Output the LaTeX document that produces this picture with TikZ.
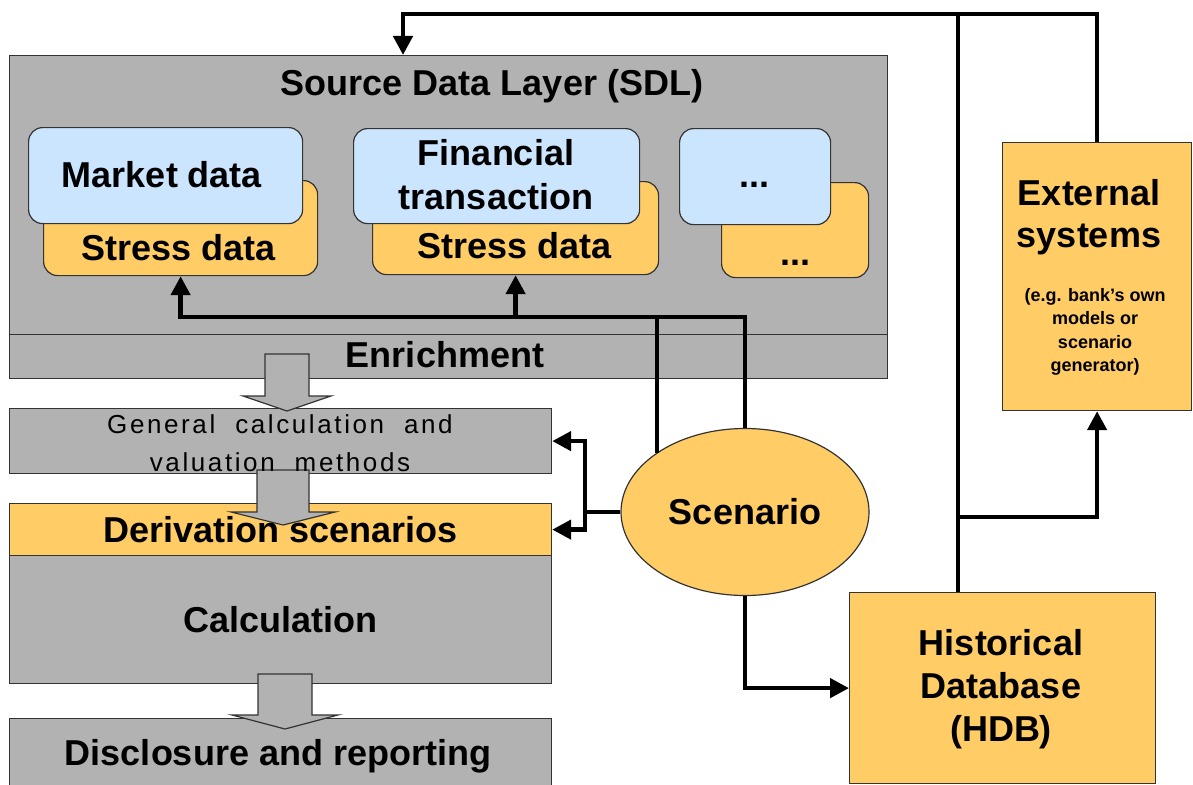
\documentclass[tikz,border=0pt]{standalone}
\usepackage{fontspec}
\setmainfont{Liberation Sans}
\usepackage{tikz}
\usetikzlibrary{arrows.meta, shapes.geometric, positioning, calc}

\definecolor{layergray}{RGB}{178,178,178}
\definecolor{stressorange}{RGB}{255,204,102}
\definecolor{datablue}{RGB}{204,229,255}

\tikzset{
  box/.style={draw=black!80, line width=1.2pt, rectangle, inner sep=0pt, anchor=north west},
  graybox/.style={box, fill=layergray},
  orangebox/.style={box, fill=stressorange},
  bluecard/.style={box, fill=datablue, rounded corners=14pt},
  orangecard/.style={box, fill=stressorange, rounded corners=14pt},
  bigtext/.style={font=\fontsize{36}{44}\selectfont\bfseries, inner sep=0pt, align=center},
  smalltext/.style={font=\fontsize{18}{23.5}\selectfont\bfseries, inner sep=0pt, align=center},
  wire/.style={line width=4.5pt},
  flow/.style={wire, -{Triangle[length=19pt, width=19pt]}},
  blockarrow/.style={draw=black!80, line width=1.2pt, fill=layergray}
}

\begin{document}
\begin{tikzpicture}[x=1pt, y=-1pt]

    \useasboundingbox (0,0) rectangle (1193,784);

    % =================================================================
    % 1. SOURCE DATA LAYER
    % =================================================================
    \node[graybox, minimum width=878pt, minimum height=279pt] (sdl) at (9,55) {};
    \node[graybox, minimum width=878pt, minimum height=44pt] (enrich) at (9,334) {};

    % Stress data behind, data cards in front
    \node[orangecard, minimum width=274pt, minimum height=95pt] (mktstress) at (43,180) {};
    \node[bluecard, minimum width=274pt, minimum height=96pt] (mkt) at (28,127) {};
    \node[orangecard, minimum width=286pt, minimum height=93pt] (finstress) at (372,181) {};
    \node[bluecard, minimum width=286pt, minimum height=95pt] (fin) at (353,128) {};
    \node[orangecard, minimum width=147pt, minimum height=95pt] (morestress) at (721,182) {};
    \node[bluecard, minimum width=151pt, minimum height=96pt] (more) at (679,128) {};

    % =================================================================
    % 2. CALCULATION CHAIN (left column)
    % =================================================================
    \node[graybox, minimum width=542pt, minimum height=65pt] (gen) at (9,408) {};
    \node[orangebox, minimum width=542pt, minimum height=52pt] (deriv) at (9,503) {};
    \node[graybox, minimum width=542pt, minimum height=128pt] (calc) at (9,555) {};
    \node[graybox, minimum width=542pt, minimum height=72pt] (disc) at (9,718) {};

    % Block arrows between the layers
    \foreach \cx/\ya/\yb/\yc/\sw/\hw in {287/354/396/411/22/44, 283/470/512/525/26/52, 285/674/715/729/27/53}
      \draw[blockarrow] (\cx-\sw,\ya) -- (\cx+\sw,\ya) -- (\cx+\sw,\yb) -- (\cx+\hw,\yb)
        -- (\cx,\yc) -- (\cx-\hw,\yb) -- (\cx-\sw,\yb) -- cycle;

    % =================================================================
    % 3. SCENARIO, HDB, EXTERNAL SYSTEMS
    % =================================================================
    \node[ellipse, draw=black!80, line width=1.2pt, fill=stressorange, inner sep=0pt,
          minimum width=248pt, minimum height=167pt, bigtext] (scen) at (745,512) {Scenario};
    \node[orangebox, minimum width=306pt, minimum height=191pt] (hdb) at (849,592) {};
    \node[orangebox, minimum width=189pt, minimum height=268pt] (ext) at (1002,142) {};

    % =================================================================
    % 4. TEXTS
    % =================================================================
    \node[bigtext, anchor=base] (sdltitle) at (492,95) {Source Data Layer (SDL)};
    \node[bigtext, anchor=base] (mkttext) at (162,187) {Market data};
    \node[bigtext, anchor=base] (mktstresstext) at (179,260) {Stress data};
    \node[bigtext] (fintext) at (496,175) {Financial\\transaction};
    \node[bigtext, anchor=base] (finstresstext) at (515,258) {Stress data};
    \node[bigtext, anchor=base] (moretext) at (754,187) {...};
    \node[bigtext, anchor=base] (morestresstext) at (795,265) {...};
    \node[bigtext, anchor=base] (enrichtext) at (445,367) {Enrichment};

    \node[font={\fontsize{26}{38}\selectfont\addfontfeature{LetterSpace=10}\spaceskip=20pt},
          inner sep=0pt, align=center]
      (gentext) at (280,443) {General calculation and\\valuation methods};
    \node[bigtext] (derivtext) at (deriv.center) {Derivation scenarios};
    \node[bigtext] (calctext) at (calc.center) {Calculation};
    \node[bigtext, anchor=base] (disctext) at (278,765) {Disclosure and reporting};

    \node[bigtext, text width=300pt, font=\fontsize{36}{43}\selectfont\bfseries] (hdbtext) at (1001,689) {Historical\\Database\\(HDB)};
    \node[bigtext, font=\fontsize{36}{42}\selectfont\bfseries] (exttext) at (1089,217) {External\\systems};
    \node[smalltext] (extnote) at (1095,332) {(e.g. bank's own\\models or\\scenario\\generator)};

    % =================================================================
    % 5. CONNECTORS
    % =================================================================
    \coordinate (rail) at (958,14);
    \coordinate (sdlentry) at (403,55);
    \coordinate (bus) at (744,317);
    \coordinate (fork) at (585,512);
    \coordinate (branch) at (958,517);

    % HDB and external systems feed the SDL
    \draw[flow] (ext.north) |- (rail) -| (sdlentry);
    \draw[wire] (hdb.north -| rail) -- (rail);
    \draw[flow] (branch) -| (ext.south);

    % Scenario into the stress data
    \draw[flow] (scen.north) |- (mktstress.south |- bus) -- (mktstress.south);
    \draw[flow] (finstress.south |- bus) -- (finstress.south);
    \draw[wire] (scen.north west) -- (scen.north west |- bus);

    % Scenario into the calculation chain
    \draw[wire] (scen.west) -- (fork);
    \draw[flow] (fork) |- (gen.east);
    \draw[flow] (fork) |- (deriv.east);

    % Scenario into the HDB
    \draw[flow] (scen.south) |- (hdb.west);

\end{tikzpicture}
\end{document}
